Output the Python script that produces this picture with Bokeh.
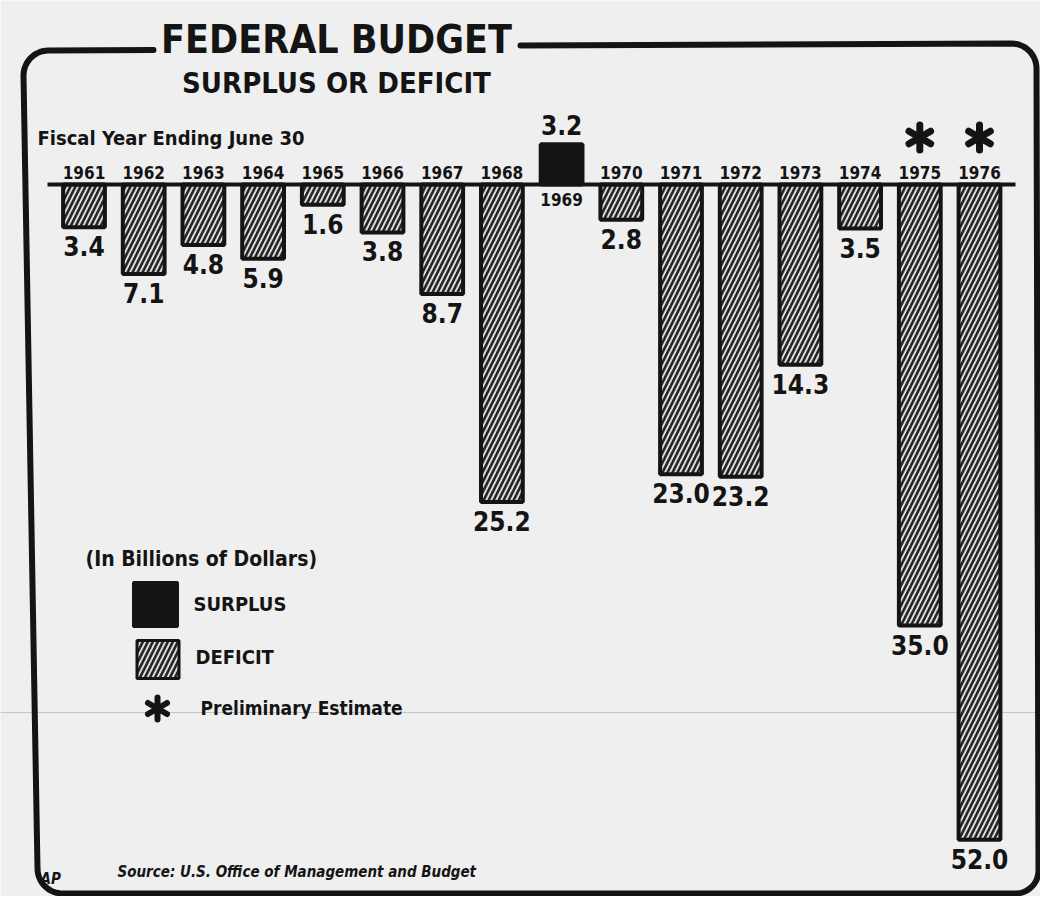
import numpy as np
from bokeh.plotting import figure
from bokeh.models import Range1d, ColumnDataSource, Label
from bokeh.core.properties import value
from bokeh.embed import file_html
from bokeh.resources import INLINE

# ---------------- data ----------------
years = ["1961", "1962", "1963", "1964", "1965", "1966", "1967", "1968",
         "1969", "1970", "1971", "1972", "1973", "1974", "1975", "1976"]
balance = [-3.4, -7.1, -4.8, -5.9, -1.6, -3.8, -8.7, -25.2,
           3.2, -2.8, -23.0, -23.2, -14.3, -3.5, -35.0, -52.0]
estimated_years = ["1975", "1976"]
title_text = "FEDERAL BUDGET"
subtitle_text = "SURPLUS OR DEFICIT"
period_text = "Fiscal Year Ending June 30"
units_text = "(In Billions of Dollars)"
legend_surplus = "SURPLUS"
legend_deficit = "DEFICIT"
legend_estimate = "Preliminary Estimate"
source_text = "Source: U.S. Office of Management and Budget"

# ---------------- layout ----------------
W, H = 1040, 896
STEP = 59.7       # px between bars
X0 = 83.5         # px of first bar centre
BASE = 184.0      # px of zero line
SCALE = 12.6      # px per billion

FONT = "DejaVu Sans Condensed, Roboto Condensed, Liberation Sans Narrow, Roboto, sans-serif"
INK = "#141414"
PAPER = "#efefef"


def dx(px):
    return (px - X0) / STEP


def dy(py):
    return (BASE - py) / SCALE


p = figure(width=W, height=H, output_backend="svg", toolbar_location=None,
           x_range=Range1d(-X0 / STEP, (W - X0) / STEP),
           y_range=Range1d(-(H - BASE) / SCALE, BASE / SCALE),
           min_border=0)
p.xaxis.visible = False
p.yaxis.visible = False
p.grid.visible = False
p.outline_line_color = None
p.background_fill_color = PAPER
p.border_fill_color = PAPER

# faint scan line of the newsprint
p.line([dx(0), dx(1056)], [dy(712), dy(712)], line_color="#c4c4c4", line_width=1)

# ---------------- frame ----------------
def arc(cx, cy, r, a0, a1, n=14):
    a = np.radians(np.linspace(a0, a1, n))
    return list(cx + r * np.cos(a)), list(cy + r * np.sin(a))

fx, fy = [153.0], [49.5]
ax_, ay_ = arc(48, 75, 25, 270, 180); fx += ax_; fy += ay_
ax_, ay_ = arc(62, 868, 25, 180, 90); fx += ax_; fy += ay_
ax_, ay_ = arc(1015, 870, 23, 90, 0); fx += ax_; fy += ay_
ax_, ay_ = arc(1011, 68, 25, 0, -90); fx += ax_; fy += ay_
fx.append(520.0); fy.append(45.0)
p.line([dx(v) for v in fx], [dy(v) for v in fy], line_color=INK,
       line_width=6, line_join="round", line_cap="round")

# ---------------- bars ----------------
def_idx = [i for i, v in enumerate(balance) if v < 0]
sur_idx = [i for i, v in enumerate(balance) if v > 0]

dsrc = ColumnDataSource(dict(
    x=def_idx,
    bottom=[balance[i] for i in def_idx],
    lab=[f"{abs(balance[i]):.1f}" for i in def_idx],
    ly=[balance[i] - 9 / SCALE for i in def_idx],
))
ssrc = ColumnDataSource(dict(
    x=sur_idx,
    top=[balance[i] for i in sur_idx],
    lab=[f"{abs(balance[i]):.1f}" for i in sur_idx],
    ly=[balance[i] + 29 / SCALE for i in sur_idx],
))

HATCH = dict(fill_color="#dcdcdc", hatch_pattern="/", hatch_color="#262626",
             hatch_scale=10, hatch_weight=2.6)
p.vbar(x="x", top=0, bottom="bottom", width=0.70, source=dsrc,
       line_color=INK, line_width=4, **HATCH)
p.vbar(x="x", top="top", bottom=0, width=0.70, source=ssrc,
       fill_color=INK, line_color=INK, line_width=4)

# zero line
p.line([dx(47), dx(1015)], [0, 0], line_color=INK, line_width=4)

TXT = dict(text_font=value(FONT), text_font_style="bold", text_color=INK,
           text_baseline="top", text_align="center")

# value labels
p.text(x="x", y="ly", text="lab", source=dsrc, text_font_size="26px", **TXT)
p.text(x="x", y="ly", text="lab", source=ssrc, text_font_size="26px", **TXT)

# year labels
ysrc_up = ColumnDataSource(dict(x=def_idx, t=[years[i] for i in def_idx],
                                y=[19 / SCALE] * len(def_idx)))
ysrc_dn = ColumnDataSource(dict(x=sur_idx, t=[years[i] for i in sur_idx],
                                y=[-8 / SCALE] * len(sur_idx)))
p.text(x="x", y="y", text="t", source=ysrc_up, text_font_size="17px", **TXT)
p.text(x="x", y="y", text="t", source=ysrc_dn, text_font_size="17px", **TXT)

# preliminary-estimate stars
est_x = [years.index(y) for y in estimated_years]
for ang in (90, 30, 150):
    p.scatter(x=est_x, y=[dy(137)] * len(est_x), marker="dash", size=25,
              angle=np.radians(ang), line_color=INK, line_width=7, line_cap="round")

# ---------------- titles ----------------
def lab(txt, x, y, size, align="left", style="bold"):
    p.add_layout(Label(x=dx(x), y=dy(y), text=txt, text_font=FONT,
                       text_font_style=style, text_font_size=size,
                       text_align=align, text_baseline="top", text_color=INK))

lab(title_text, 336, 16, "39px", align="center")
lab(subtitle_text, 336, 65, "29px", align="center")
lab(period_text, 37, 125, "20px")

# ---------------- legend ----------------
lab(units_text, 85, 546, "21px")
p.rect(x=[dx(155)], y=[dy(604)], width=44 / STEP, height=44 / SCALE,
       fill_color=INK, line_color=INK, line_width=3)
p.rect(x=[dx(157.5)], y=[dy(659)], width=42 / STEP, height=38 / SCALE,
       line_color=INK, line_width=3, **HATCH)
lab(legend_surplus, 193, 591, "20px")
lab(legend_deficit, 195, 644, "20px")
for ang in (90, 30, 150):
    p.scatter(x=[dx(157)], y=[dy(708)], marker="dash", size=22,
              angle=np.radians(ang), line_color=INK, line_width=6, line_cap="round")
lab(legend_estimate, 200, 696, "19px")

# ---------------- source ----------------
lab("AP", 40, 869, "15px", style="bold italic")
lab(source_text, 117, 862, "15px", style="bold italic")

open("out.html", "w").write(file_html(p, INLINE))
